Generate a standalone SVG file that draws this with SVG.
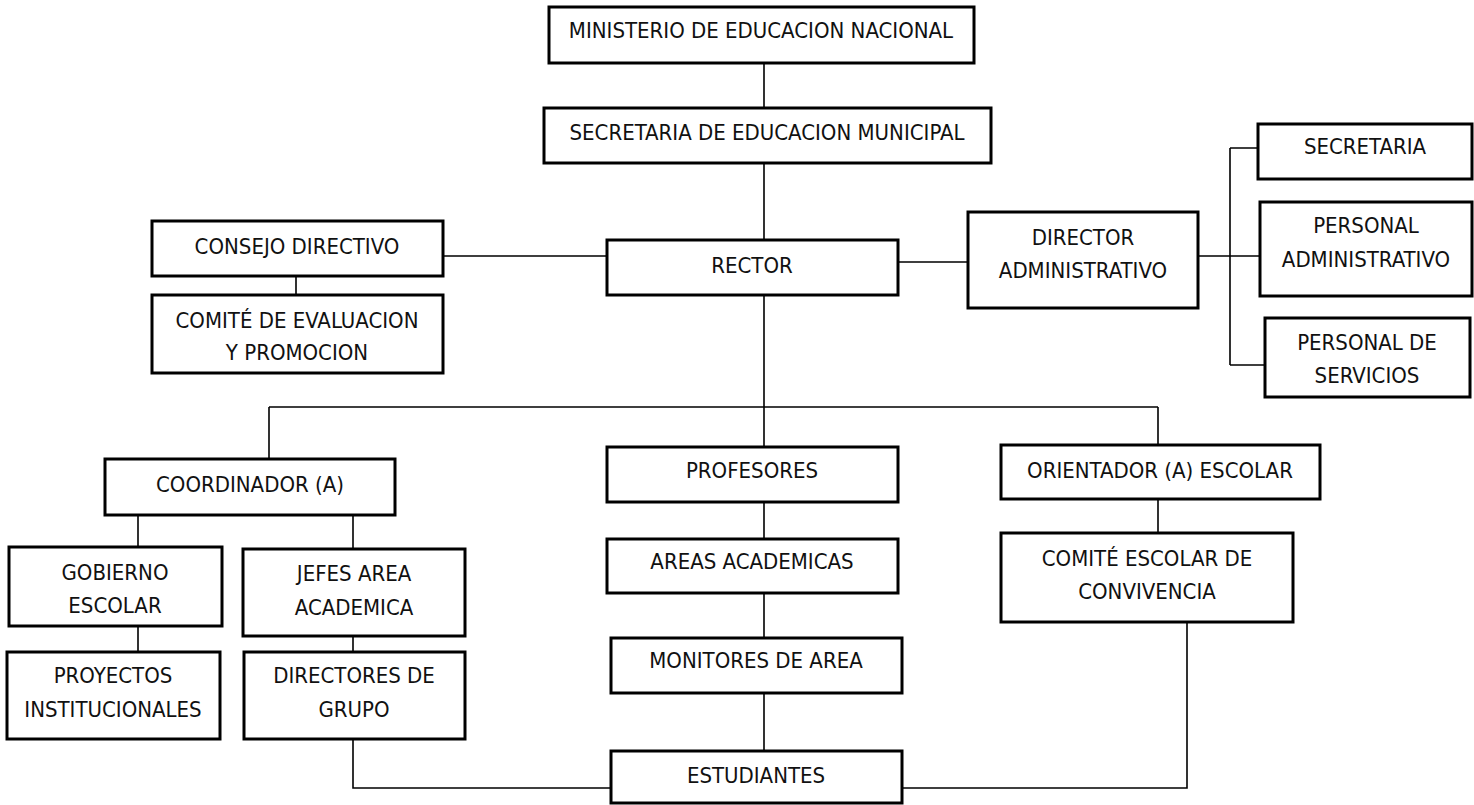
<svg xmlns="http://www.w3.org/2000/svg" width="1474" height="805" viewBox="0 0 1474 805">
<style>
.box{fill:#fff;stroke:#000;stroke-width:3}
.t{font-family:"Liberation Sans Narrow","DejaVu Sans Condensed","Liberation Sans",sans-serif;font-size:22px;fill:#111;text-anchor:middle}
.c{fill:none;stroke:#000;stroke-width:1.6}
</style>
<rect width="1474" height="805" fill="#fff"/>
<g id="connectors">
<path class="c" d="M764 63V108M764 163V240M443 256H607M898 262H968M1198 256H1260M1230 148V365M1230 148H1258M1230 365H1265M296 276V295"/>
<path class="c" d="M764 295V447M269 407H1158M269 407V459M1158 407V445M138 515V547M353 515V549M138 622V652M353 626V657M764 502V539M764 593V638M764 693V751M1158 499V533M353 728V788H611M1187 622V788H902"/>
</g>
<g id="n1"><rect class="box" x="549" y="7" width="425" height="56"/><text class="t" x="761" y="38">MINISTERIO DE EDUCACION NACIONAL</text></g>
<g id="n2"><rect class="box" x="544" y="108" width="447" height="55"/><text class="t" x="767" y="140">SECRETARIA DE EDUCACION MUNICIPAL</text></g>
<g id="n3"><rect class="box" x="152" y="221" width="291" height="55"/><text class="t" x="297" y="254">CONSEJO DIRECTIVO</text></g>
<g id="n4"><rect class="box" x="152" y="295" width="291" height="78"/><text class="t" x="297" y="328">COMITÉ DE EVALUACION</text><text class="t" x="297" y="360">Y PROMOCION</text></g>
<g id="n5"><rect class="box" x="607" y="240" width="291" height="55"/><text class="t" x="752" y="273">RECTOR</text></g>
<g id="n6"><rect class="box" x="968" y="212" width="230" height="96"/><text class="t" x="1083" y="245">DIRECTOR</text><text class="t" x="1083" y="278">ADMINISTRATIVO</text></g>
<g id="n7"><rect class="box" x="1258" y="124" width="214" height="55"/><text class="t" x="1365" y="154">SECRETARIA</text></g>
<g id="n8"><rect class="box" x="1260" y="202" width="212" height="94"/><text class="t" x="1366" y="233">PERSONAL</text><text class="t" x="1366" y="267">ADMINISTRATIVO</text></g>
<g id="n9"><rect class="box" x="1265" y="318" width="205" height="79"/><text class="t" x="1367" y="350">PERSONAL DE</text><text class="t" x="1367" y="383">SERVICIOS</text></g>
<g id="n10"><rect class="box" x="105" y="459" width="290" height="56"/><text class="t" x="250" y="492">COORDINADOR (A)</text></g>
<g id="n11"><rect class="box" x="607" y="447" width="291" height="55"/><text class="t" x="752" y="478">PROFESORES</text></g>
<g id="n12"><rect class="box" x="1001" y="445" width="319" height="54"/><text class="t" x="1160" y="478">ORIENTADOR (A) ESCOLAR</text></g>
<g id="n13"><rect class="box" x="9" y="547" width="213" height="79"/><text class="t" x="115" y="580">GOBIERNO</text><text class="t" x="115" y="613">ESCOLAR</text></g>
<g id="n14"><rect class="box" x="243" y="549" width="222" height="87"/><text class="t" x="354" y="581">JEFES AREA</text><text class="t" x="354" y="615">ACADEMICA</text></g>
<g id="n15"><rect class="box" x="607" y="539" width="291" height="54"/><text class="t" x="752" y="569">AREAS ACADEMICAS</text></g>
<g id="n16"><rect class="box" x="1001" y="533" width="292" height="89"/><text class="t" x="1147" y="566">COMITÉ ESCOLAR DE</text><text class="t" x="1147" y="599">CONVIVENCIA</text></g>
<g id="n17"><rect class="box" x="7" y="652" width="213" height="87"/><text class="t" x="113" y="683">PROYECTOS</text><text class="t" x="113" y="717">INSTITUCIONALES</text></g>
<g id="n18"><rect class="box" x="244" y="652" width="221" height="87"/><text class="t" x="354" y="683">DIRECTORES DE</text><text class="t" x="354" y="717">GRUPO</text></g>
<g id="n19"><rect class="box" x="611" y="638" width="291" height="55"/><text class="t" x="756" y="668">MONITORES DE AREA</text></g>
<g id="n20"><rect class="box" x="611" y="751" width="291" height="52"/><text class="t" x="756" y="783">ESTUDIANTES</text></g>
</svg>
